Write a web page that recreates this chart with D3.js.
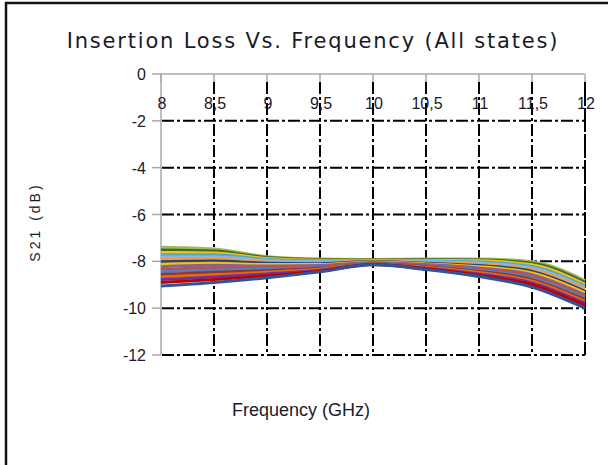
<!DOCTYPE html>
<html>
<head>
<meta charset="utf-8">
<script src="https://cdnjs.cloudflare.com/ajax/libs/d3/7.8.5/d3.min.js"></script>
<style>
  body { margin: 0; background: #fff; }
  svg { display: block; }
</style>
</head>
<body>
<svg></svg>
<script>
// frequency points (GHz)
var freq = [8, 8.5, 9, 9.5, 10, 10.5, 11, 11.5, 12];

// S21 (dB) for every state
var s1  = [-7.40, -7.47, -7.80, -7.90, -7.92, -7.90, -7.90, -8.02, -8.82];
var s2  = [-7.52, -7.56, -7.84, -7.92, -7.93, -7.93, -7.94, -8.08, -8.90];
var s3  = [-7.62, -7.64, -7.88, -7.95, -7.95, -7.96, -7.98, -8.15, -8.98];
var s4  = [-7.72, -7.72, -7.92, -7.98, -7.96, -7.99, -8.03, -8.22, -9.06];
var s5  = [-7.82, -7.81, -7.97, -8.02, -7.98, -8.02, -8.08, -8.29, -9.13];
var s6  = [-7.92, -7.90, -8.03, -8.06, -8.00, -8.05, -8.13, -8.36, -9.20];
var s7  = [-8.02, -7.99, -8.08, -8.10, -8.01, -8.08, -8.18, -8.43, -9.28];
var s8  = [-8.12, -8.08, -8.14, -8.14, -8.03, -8.11, -8.23, -8.50, -9.35];
var s9  = [-8.23, -8.17, -8.20, -8.18, -8.05, -8.14, -8.28, -8.57, -9.43];
var s10 = [-8.34, -8.27, -8.27, -8.22, -8.07, -8.17, -8.33, -8.64, -9.50];
var s11 = [-8.45, -8.37, -8.33, -8.26, -8.08, -8.20, -8.38, -8.71, -9.57];
var s12 = [-8.56, -8.47, -8.40, -8.30, -8.10, -8.23, -8.43, -8.78, -9.64];
var s13 = [-8.67, -8.57, -8.47, -8.34, -8.11, -8.26, -8.48, -8.85, -9.71];
var s14 = [-8.78, -8.67, -8.54, -8.38, -8.12, -8.29, -8.54, -8.92, -9.79];
var s15 = [-8.90, -8.78, -8.62, -8.42, -8.14, -8.32, -8.60, -9.00, -9.88];
var s16 = [-9.05, -8.90, -8.70, -8.45, -8.15, -8.35, -8.65, -9.10, -10.00];

var states = [s1, s2, s3, s4, s5, s6, s7, s8, s9, s10, s11, s12, s13, s14, s15, s16];
var colors = ['#9BBB59', '#4F6228', '#F2C314', '#4BACC6', '#8EB4E3', '#F79646', '#1F497D', '#FFC000',
              '#8064A2', '#C0504D', '#4F81BD', '#943634', '#E46C0A', '#7030A0', '#C00000', '#2E5597'];

var xTicks = [8, 8.5, 9, 9.5, 10, 10.5, 11, 11.5, 12];
var xTickLabels = ['8', '8,5', '9', '9,5', '10', '10,5', '11', '11,5', '12'];
var yTicks = [0, -2, -4, -6, -8, -10, -12];

var width = 608, height = 465;
var margin = {top: 74, right: 23, bottom: 110, left: 161};

var svg = d3.select('svg')
    .attr('width', width)
    .attr('height', height);

// frame
svg.append('path')
    .attr('d', 'M6,465 L6,3 L608,3')
    .attr('fill', 'none')
    .attr('stroke', '#111')
    .attr('stroke-width', 2.5);

var x = d3.scaleLinear().domain([8, 12]).range([margin.left, width - margin.right]);
var y = d3.scaleLinear().domain([0, -12]).range([margin.top, height - margin.bottom]);

// gray axis lines
svg.append('line')
    .attr('x1', x(8)).attr('x2', x(12)).attr('y1', y(0)).attr('y2', y(0))
    .attr('stroke', '#aaa').attr('stroke-width', 1.5);
svg.append('line')
    .attr('x1', x(8)).attr('x2', x(8)).attr('y1', y(0)).attr('y2', y(-12))
    .attr('stroke', '#aaa').attr('stroke-width', 1.5);

// x ticks on the 0 line
svg.selectAll('.xt')
    .data(xTicks)
    .enter()
    .append('line')
      .attr('x1', d => x(d)).attr('x2', d => x(d))
      .attr('y1', y(0)).attr('y2', y(0) + 8)
      .attr('stroke', '#aaa').attr('stroke-width', 1.5);

// y ticks
svg.selectAll('.yt')
    .data(yTicks)
    .enter()
    .append('line')
      .attr('x1', x(8) - 9).attr('x2', x(8))
      .attr('y1', d => y(d)).attr('y2', d => y(d))
      .attr('stroke', '#aaa').attr('stroke-width', 1.5);

// grid
svg.selectAll('.hgrid')
    .data(yTicks.filter(d => d < 0))
    .enter()
    .append('line')
      .attr('x1', x(8) + 1).attr('x2', x(12))
      .attr('y1', d => y(d)).attr('y2', d => y(d))
      .attr('stroke', '#000').attr('stroke-width', 2)
      .attr('stroke-dasharray', '12,3,3,3');

svg.selectAll('.vgrid')
    .data(xTicks.slice(1))
    .enter()
    .append('line')
      .attr('x1', d => x(d)).attr('x2', d => x(d))
      .attr('y1', y(0) + 8).attr('y2', y(-12))
      .attr('stroke', '#000').attr('stroke-width', 2)
      .attr('stroke-dasharray', d => d === 12 ? '24,2' : '12,3,3,3');

// curves
var line = d3.line()
    .x((d, i) => x(freq[i]))
    .y(d => y(d))
    .curve(d3.curveMonotoneX);

svg.selectAll('.state')
    .data(states)
    .enter()
    .append('path')
      .attr('fill', 'none')
      .attr('stroke', (d, i) => colors[i % colors.length])
      .attr('stroke-width', 3)
      .attr('d', line);

// tick labels
svg.selectAll('.xl')
    .data(xTicks)
    .enter()
    .append('text')
      .attr('x', (d, i) => x(d) + 1)
      .attr('y', y(0) + 35)
      .style('text-anchor', 'middle')
      .style('font-family', 'Liberation Sans, Arial, sans-serif')
      .style('font-size', '16px')
      .style('fill', '#1a1a2a')
      .text((d, i) => xTickLabels[i]);

svg.selectAll('.yl')
    .data(yTicks)
    .enter()
    .append('text')
      .attr('x', x(8) - 15)
      .attr('y', d => y(d) + 6)
      .style('text-anchor', 'end')
      .style('font-family', 'Liberation Sans, Arial, sans-serif')
      .style('font-size', '16px')
      .style('fill', '#1a1a2a')
      .text(d => d);

// titles
svg.append('text')
    .text('Insertion Loss Vs. Frequency (All states)')
    .attr('x', 313)
    .attr('y', 48)
    .style('text-anchor', 'middle')
    .style('font-family', 'DejaVu Sans, sans-serif')
    .style('font-size', '21px')
    .style('letter-spacing', '1.8px')
    .style('fill', '#1a1a2a');

svg.append('text')
    .text('Frequency (GHz)')
    .attr('x', 301)
    .attr('y', 416)
    .style('text-anchor', 'middle')
    .style('font-family', 'Liberation Sans, Arial, sans-serif')
    .style('font-size', '18px')
    .style('fill', '#1a1a2a');

svg.append('text')
    .text('S21 (dB)')
    .attr('transform', 'translate(40,222) rotate(-90)')
    .style('text-anchor', 'middle')
    .style('font-family', 'Liberation Sans, Arial, sans-serif')
    .style('font-size', '14px')
    .style('letter-spacing', '3px')
    .style('fill', '#1a1a2a');
</script>
</body>
</html>
